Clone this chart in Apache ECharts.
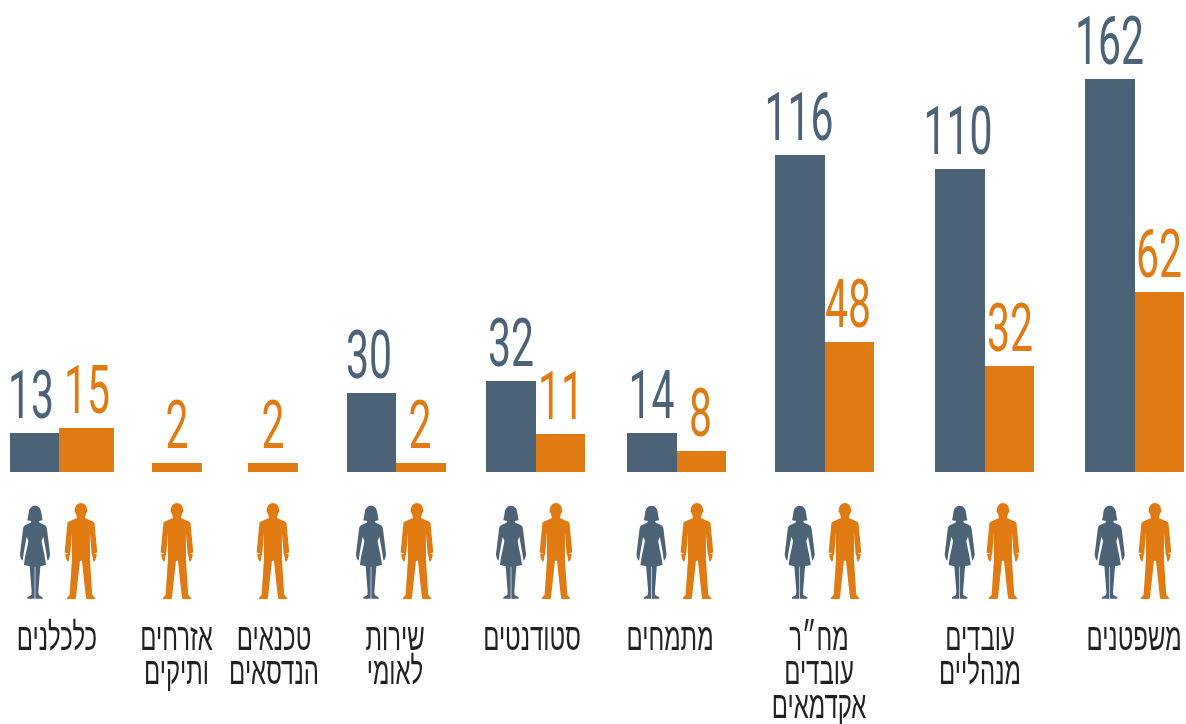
<!DOCTYPE html>
<html><head><meta charset="utf-8">
<style>html,body{margin:0;padding:0;background:#fff}#c{width:1186px;height:724px}</style>
<script src="https://cdn.jsdelivr.net/npm/echarts@6/dist/echarts.min.js"></script>
</head><body><div id="c"></div>
<script>
// Data as printed in the picture
const categories = ['כלכלנים','אזרחים\nותיקים','טכנאים\nהנדסאים','שירות\nלאומי','סטודנטים','מתמחים','מח״ר\nעובדים\nאקדמאים','עובדים\nמנהליים','משפטנים'];
const womenLabels = [13,null,null,30,32,14,116,110,162];
const menLabels   = [15,2,2,2,11,8,48,32,62];
// Bar heights as drawn in the picture (the original is not to a single scale)
const womenHeights = [39,null,null,79,91,39,317,303,393];
const menHeights   = [44,9,9,9,38,21,130,106,180];

// Layout
const barLeft = [10,152,248,347,486,627,775,935,1085];
const womanBarW = [49,0,0,49,50,50,50,50,50];
const manBarW   = [55,50,50,50,49,49,49,49,49];
const womanLabelDx = [-3.5,0,0,-2.5,0,-0.5,-1,-2,-0.5];
const manLabelDx   = [0.5,0,0,-1,0.5,-1,-1.5,0.5,-0.5];
const womanIconX = [35,null,null,371,511,651.5,799.7,959.7,1109.7];
const manIconX   = [81,177,273,417,556,697,845,1003,1155];
const labelX = [57,176.5,274,395,532,670,819,980,1134];
const NAVY='#4c6277', ORANGE='#e07b14', INK='#231f20';
const BASE=472;

const manPath='M244 40C255 40 262 49 262 60C264 60 264 68 260 70C258 76 256 80 256 85L281 96C284 98 285 100 285 104L293 188L281 191L291 192C292 200 288 210 284 215C281 216 279 210 279 200L276 192L271 130L271 210L278 314L286 323L286 327L260 327L258 315L247 213L241 213L230 315L228 327L202 327L202 323L210 314L217 210L217 130L212 192L209 200C209 210 207 216 204 215C200 210 196 200 197 192L207 191L195 188L203 104C203 100 204 98 207 96L232 85C232 80 230 76 228 70C224 68 224 60 226 60C226 49 233 40 244 40Z';
const womanPath='M105 47C116 47 123 56 124 68C125 78 127 84 128 91L116 93C116 96 118 99 122 100L135 106C139 108 140 112 141 118L150 192C150 200 147 208 143 212L141 205L139 190L130 140L125 152C126 165 136 200 138 225L121 229L115 305L116 315L128 322L128 326L106 326L106 230L104 230L104 326L82 326L82 322L94 315L95 305L89 229L72 225C74 200 84 165 85 152L80 140L71 190L69 205L67 212C63 208 60 200 60 192L69 118C70 112 71 108 75 106L88 100C92 99 94 96 94 93L82 91C83 84 85 78 86 68C87 56 94 47 105 47Z';

const grids=[],xAxes=[],yAxes=[],series=[],graphics=[],icons=[];
const valueFont='400 67px Roboto', valueScale=0.61;

// each bar sits in its own small grid: the groups are unevenly spaced
function addBar(cat,left,width,height,printed,color,dx){
  const k=grids.length;
  grids.push({left,top:0,width,height:BASE});
  xAxes.push({type:'category',gridIndex:k,data:[cat],show:false});
  yAxes.push({type:'value',gridIndex:k,min:0,max:BASE,show:false});
  series.push({type:'bar',xAxisIndex:k,yAxisIndex:k,data:[height],barWidth:width,itemStyle:{color},silent:true});
  series.push({type:'custom',xAxisIndex:k,yAxisIndex:k,data:[[0,height]],silent:true,clip:false,
    renderItem:(p,api)=>{
      const c=api.coord([api.value(0),api.value(1)]);
      return {type:'text',x:c[0]+dx,y:c[1]+2,scaleX:valueScale,style:{
        text:String(printed),font:valueFont,textAlign:'center',textVerticalAlign:'bottom',fill:color}};
    }});
}

categories.forEach((cat,i)=>{
  const hasW = womenHeights[i]!==null;
  if(hasW) addBar(cat,barLeft[i],womanBarW[i],womenHeights[i],womenLabels[i],NAVY,womanLabelDx[i]);
  addBar(cat,barLeft[i]+womanBarW[i],manBarW[i],menHeights[i],menLabels[i],ORANGE,manLabelDx[i]);
  if(hasW) icons.push([womanIconX[i],0]);
  icons.push([manIconX[i],1]);
  graphics.push({type:'text',silent:true,x:labelX[i],y:623,scaleX:0.63,style:{
    text:cat,font:'400 38px "Liberation Sans"',lineHeight:34,textAlign:'center',textVerticalAlign:'top',fill:INK}});
});
series.push({type:'custom',coordinateSystem:'none',data:icons,silent:true,
  renderItem:(p,api)=>{
    const man=api.value(1), cx=api.value(0);
    return man
      ? {type:'path',shape:{pathData:manPath,x:cx-16.4,y:503,width:32.7,height:96,layout:'cover'},style:{fill:ORANGE}}
      : {type:'path',shape:{pathData:womanPath,x:cx-15,y:505.7,width:30,height:93,layout:'cover'},style:{fill:NAVY}};
  }});

const chart=echarts.init(document.getElementById('c'),null,{renderer:'canvas'});
chart.setOption({animation:false,tooltip:{show:false},legend:{show:false},grid:grids,xAxis:xAxes,yAxis:yAxes,series,graphic:{elements:graphics}});
</script></body></html>
